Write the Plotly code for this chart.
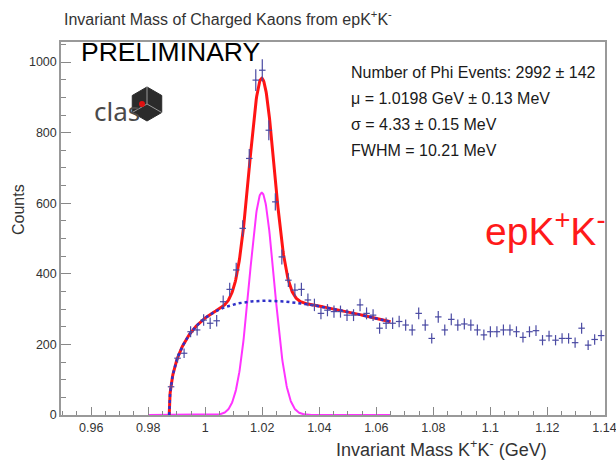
import numpy as np
import plotly.graph_objects as go

# ---- histogram: m(K+K-) from epK+K-, 70 bins over 0.98-1.14 GeV ----
hist_lo, hist_hi, n_bins = 0.98, 1.14, 70
bin_width = (hist_hi - hist_lo) / n_bins
first_filled_bin = 3  # bins below the K+K- threshold are empty

counts = [
    80, 161, 175, 236, 241, 269, 260, 267, 321, 356,
    411, 529, 727, 949, 977, 807, 604, 448, 382, 354,
    356, 326, 312, 288, 297, 293, 293, 283, 283, 312,
    288, 283, 246, 260, 260, 265, 255, 241, 288, 255,
    217, 278, 241, 271, 255, 258, 255, 241, 227, 236,
    236, 241, 241, 236, 220, 236, 239, 212, 224, 212,
    217, 217, 205, 246, 198, 214, 225,
]
bin_centers = [hist_lo + (first_filled_bin + i + 0.5) * bin_width for i in range(len(counts))]
count_errors = [float(np.sqrt(c)) for c in counts]

# ---- fit results ----
n_phi = 2992
n_phi_err = 142
mu = 1.0198          # GeV
mu_err_mev = 0.13
sigma = 0.00433      # GeV
sigma_err_mev = 0.15
fwhm_mev = 10.21
fit_lo, fit_hi = 0.98, 1.065

# threshold background  A * (m - m_thr)^p * exp(-b (m - m_thr))
m_kaon = 0.493677
m_thr = 2 * m_kaon
bkg_norm = 2324.0
bkg_power = 0.45
bkg_slope = 13.2

gauss_amp = n_phi * bin_width / (np.sqrt(2 * np.pi) * sigma)


def gauss(m):
    return gauss_amp * np.exp(-0.5 * ((m - mu) / sigma) ** 2)


def background(m):
    d = np.clip(m - m_thr, 0, None)
    return bkg_norm * d ** bkg_power * np.exp(-bkg_slope * d)


m_sig = np.linspace(fit_lo, fit_hi, 600)
m_bkg = np.concatenate([[m_thr], m_thr + np.geomspace(1e-6, 0.003, 60),
                        np.linspace(m_thr + 0.003, fit_hi, 500)])

# ---- layout geometry (pixels) ----
W, H = 616, 460
ML, MR, MT, MB = 61, 11, 42, 45
PW, PH = W - ML - MR, H - MT - MB


def px(xp):
    return (xp - ML) / PW


def py(yp):
    return (H - MB - yp) / PH


FONT = "Liberation Sans, Arial, Helvetica, sans-serif"
DATA_COLOR = "#4b4ba3"

fig = go.Figure()

fig.add_trace(go.Scatter(
    x=m_sig, y=gauss(m_sig), mode="lines",
    line=dict(color="#ff33ff", width=2), hoverinfo="skip", showlegend=False))

fig.add_trace(go.Scatter(
    x=m_bkg, y=background(m_bkg) + gauss(m_bkg), mode="lines",
    line=dict(color="#ff1414", width=3), hoverinfo="skip", showlegend=False))

fig.add_trace(go.Scatter(
    x=m_bkg, y=background(m_bkg), mode="lines",
    line=dict(color="#3030c8", width=2.5, dash="dot"), hoverinfo="skip", showlegend=False))

fig.add_trace(go.Scatter(
    x=bin_centers, y=counts, mode="markers",
    marker=dict(size=1, color=DATA_COLOR),
    error_y=dict(type="data", array=count_errors, width=0, thickness=1.2, color=DATA_COLOR),
    error_x=dict(type="constant", value=bin_width / 2, width=0, thickness=1.2, color=DATA_COLOR),
    showlegend=False))

stats_font = dict(family=FONT, size=16, color="#1a1a1a")
annotations = [
    dict(x=px(62), y=py(18), text="Invariant Mass of Charged Kaons from epK<sup>+</sup>K<sup>-</sup>",
         font=dict(family=FONT, size=16, color="#333333"), xanchor="left", yanchor="middle"),
    dict(x=px(79), y=py(52), text="PRELIMINARY",
         font=dict(family=FONT, size=26.5, color="#000000"), xanchor="left", yanchor="middle"),
    dict(x=px(349), y=py(72), text=f"Number of Phi Events: {n_phi} \u00b1 {n_phi_err}",
         font=stats_font, xanchor="left", yanchor="middle"),
    dict(x=px(349), y=py(98), text=f"\u03bc = {mu:.4f} GeV \u00b1 {mu_err_mev:.2f} MeV",
         font=stats_font, xanchor="left", yanchor="middle"),
    dict(x=px(349), y=py(124), text=f"\u03c3 = {sigma * 1000:.2f} \u00b1 {sigma_err_mev:.2f} MeV",
         font=stats_font, xanchor="left", yanchor="middle"),
    dict(x=px(349), y=py(150), text=f"FWHM = {fwhm_mev:.2f} MeV",
         font=stats_font, xanchor="left", yanchor="middle"),
    dict(x=px(483), y=py(228), text="epK<sup>+</sup>K<sup>-</sup>",
         font=dict(family=FONT, size=39, color="#ff1a1a"), xanchor="left", yanchor="middle"),
    dict(x=px(334), y=py(448), text="Invariant Mass K<sup>+</sup>K<sup>-</sup> (GeV)",
         font=dict(family=FONT, size=18, color="#333333"), xanchor="left", yanchor="middle"),
    dict(x=px(18), y=py(210), text="Counts", textangle=-90,
         font=dict(family=FONT, size=16, color="#333333"), xanchor="center", yanchor="middle"),
    dict(x=px(92), y=py(111), text="clas",
         font=dict(family="Noto Sans, sans-serif", size=26, color="#4a4a4a"), xanchor="left", yanchor="middle"),
]
for a in annotations:
    a.update(xref="paper", yref="paper", showarrow=False)

# CLAS hexagon logo
cx, cy, r = 147, 104, 17
angles = np.deg2rad([90, 30, -30, -90, -150, 150])
verts = [(cx + r * np.cos(a), cy - r * np.sin(a)) for a in angles]
hex_path = "M " + " L ".join(f"{px(vx):.4f},{py(vy):.4f}" for vx, vy in verts) + " Z"
shapes = [dict(type="path", path=hex_path, xref="paper", yref="paper",
               fillcolor="#2b2b2b", line=dict(color="#2b2b2b", width=1))]
for i in (0, 2, 4):
    vx, vy = verts[i]
    shapes.append(dict(type="line", xref="paper", yref="paper",
                       x0=px(cx), y0=py(cy), x1=px(vx), y1=py(vy),
                       line=dict(color="#9a9a9a", width=1)))
shapes.append(dict(type="circle", xref="paper", yref="paper",
                   x0=px(cx - 8), x1=px(cx - 2), y0=py(cy + 3), y1=py(cy - 3),
                   fillcolor="#e01010", line=dict(color="#e01010", width=0)))

axis_common = dict(
    showgrid=False, zeroline=False, showline=True, mirror=True,
    linecolor="#999999", linewidth=1.5,
    ticks="inside", tickcolor="#888888", tickwidth=1,
    tickfont=dict(family=FONT, size=12.5, color="#333333"),
    ticklabeloverflow="allow", automargin=False,
)

fig.update_layout(
    width=W, height=H,
    margin=dict(l=ML, r=MR, t=MT, b=MB, autoexpand=False),
    paper_bgcolor="white", plot_bgcolor="white",
    xaxis=dict(range=[0.9494, 1.1402], tick0=0.96, dtick=0.02, ticklen=8,
               minor=dict(dtick=0.005, ticks="inside", ticklen=4, tickcolor="#888888"),
               **axis_common),
    yaxis=dict(range=[0, 1057], tick0=0, dtick=200, ticklen=10,
               minor=dict(dtick=50, ticks="inside", ticklen=5, tickcolor="#888888"),
               **axis_common),
    annotations=annotations,
    shapes=shapes,
    showlegend=False,
)

fig.write_html("out.html")
